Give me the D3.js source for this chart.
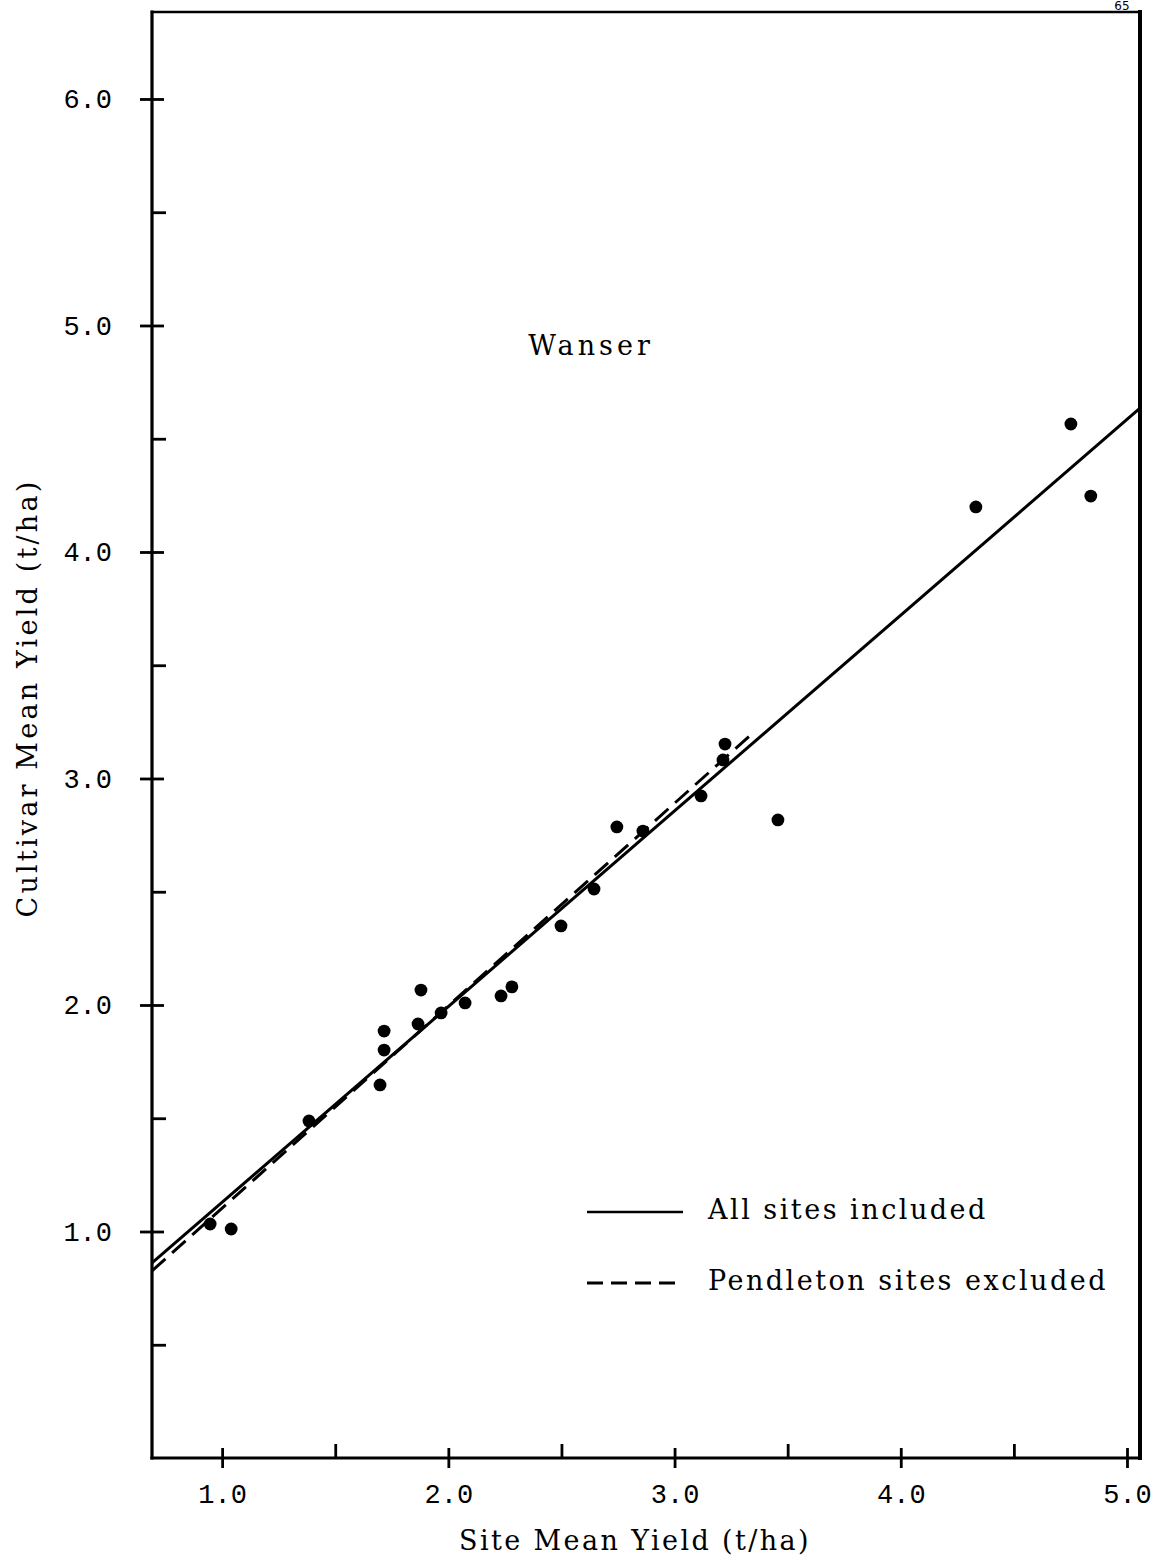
<!DOCTYPE html>
<html>
<head>
<meta charset="utf-8">
<script src="https://cdn.jsdelivr.net/npm/d3@7"></script>
<style>
  html, body { margin: 0; padding: 0; background: #fff; }
  svg { display: block; }
</style>
</head>
<body>
<svg id="chart" width="1158" height="1561"></svg>
<script>
// ---------------- data ----------------
const siteMean = [0.947, 1.04, 1.384, 1.698, 1.716, 1.716, 1.866, 1.879, 1.968, 2.074, 2.233, 2.281,
                  2.498, 2.644, 2.745, 2.860, 3.117, 3.214, 3.223, 3.457, 4.332, 4.752, 4.840];
const cultivarMean = [1.033, 1.011, 1.488, 1.647, 1.801, 1.885, 1.916, 2.066, 1.965, 2.009, 2.040, 2.080,
                      2.349, 2.512, 2.786, 2.768, 2.923, 3.082, 3.152, 2.817, 4.199, 4.565, 4.247];
// regression line end points
const allSitesX = [0.69, 5.0575];
const allSitesY = [0.861, 4.635];
const pendletonX = [0.69, 3.346];
const pendletonY = [0.826, 3.200];

const xMajorTicks = [1, 2, 3, 4, 5];
const xMinorTicks = [1.5, 2.5, 3.5, 4.5];
const xTickLabels = ["1.0", "2.0", "3.0", "4.0", "5.0"];
const yMajorTicks = [1, 2, 3, 4, 5, 6];
const yMinorTicks = [0.5, 1.5, 2.5, 3.5, 4.5, 5.5];
const yTickLabels = ["1.0", "2.0", "3.0", "4.0", "5.0", "6.0"];
const xExtent = [0.69, 5.0575];
const yExtent = [0, 6.384];

const legendLabels = ["All sites included", "Pendleton sites excluded"];
const xTitle = "Site Mean Yield (t/ha)";
const yTitle = "Cultivar Mean Yield (t/ha)";
const panelLabel = "Wanser";
const pageNumber = "65";

// ---------------- drawing ----------------
const svg = d3.select("#chart");
const x = d3.scaleLinear().domain(xExtent).range([152, 1140]);
const y = d3.scaleLinear().domain(yExtent).range([1458, 12]);

const ink = "#000";
const monoFont = "'Liberation Mono', 'DejaVu Sans Mono', monospace";
const serifFont = "'DejaVu Serif', 'Liberation Serif', serif";

// X axis (major ticks crossing the axis)
const gxMajor = svg.append("g")
  .attr("transform", `translate(0,${y(0)})`)
  .call(d3.axisBottom(x).tickValues(xMajorTicks).tickSize(10).tickPadding(30)
        .tickFormat((d, i) => xTickLabels[i]));
gxMajor.select(".domain").remove();
gxMajor.selectAll(".tick line").attr("y1", -10).attr("stroke", ink).attr("stroke-width", 2.8);
gxMajor.selectAll(".tick text")
  .attr("font-family", monoFont).attr("font-size", 27).attr("fill", ink)
  .attr("dy", "0.2em");

const gxMinor = svg.append("g")
  .attr("transform", `translate(0,${y(0)})`)
  .call(d3.axisBottom(x).tickValues(xMinorTicks).tickSize(-14).tickFormat(""));
gxMinor.select(".domain").remove();
gxMinor.selectAll(".tick line").attr("stroke", ink).attr("stroke-width", 2.8);

// Y axis
const gyMajor = svg.append("g")
  .attr("transform", `translate(${x(xExtent[0])},0)`)
  .call(d3.axisLeft(y).tickValues(yMajorTicks).tickSize(12).tickPadding(28)
        .tickFormat((d, i) => yTickLabels[i]));
gyMajor.select(".domain").remove();
gyMajor.selectAll(".tick line").attr("x1", 12).attr("stroke", ink).attr("stroke-width", 2.8);
gyMajor.selectAll(".tick text")
  .attr("font-family", monoFont).attr("font-size", 27).attr("fill", ink);

const gyMinor = svg.append("g")
  .attr("transform", `translate(${x(xExtent[0])},0)`)
  .call(d3.axisLeft(y).tickValues(yMinorTicks).tickSize(-14).tickFormat(""));
gyMinor.select(".domain").remove();
gyMinor.selectAll(".tick line").attr("stroke", ink).attr("stroke-width", 2.8);

// Frame
const frame = svg.append("g").attr("fill", "none").attr("stroke", ink).attr("stroke-linecap", "square");
frame.append("line").attr("x1", x(xExtent[0])).attr("x2", x(xExtent[0]))
  .attr("y1", y(yExtent[1])).attr("y2", y(0)).attr("stroke-width", 3.2);
frame.append("line").attr("x1", x(xExtent[0])).attr("x2", x(xExtent[1]))
  .attr("y1", y(0)).attr("y2", y(0)).attr("stroke-width", 3.2);
frame.append("line").attr("x1", x(xExtent[1])).attr("x2", x(xExtent[1]))
  .attr("y1", y(yExtent[1])).attr("y2", y(0)).attr("stroke-width", 4);
frame.append("line").attr("x1", x(xExtent[0])).attr("x2", x(xExtent[1]))
  .attr("y1", y(yExtent[1])).attr("y2", y(yExtent[1])).attr("stroke-width", 2.5);

// Regression lines
const line = d3.line().x(d => x(d[0])).y(d => y(d[1]));
svg.append("path")
  .datum(d3.zip(allSitesX, allSitesY))
  .attr("d", line).attr("fill", "none").attr("stroke", ink).attr("stroke-width", 3);
svg.append("path")
  .datum(d3.zip(pendletonX, pendletonY))
  .attr("d", line).attr("fill", "none").attr("stroke", ink).attr("stroke-width", 3)
  .attr("stroke-dasharray", "18,9");

// Points
svg.append("g").selectAll("circle")
  .data(d3.zip(siteMean, cultivarMean))
  .join("circle")
  .attr("cx", d => x(d[0])).attr("cy", d => y(d[1]))
  .attr("r", 6.4).attr("fill", ink);

// Panel label
svg.append("text").attr("x", 591).attr("y", 355).attr("text-anchor", "middle")
  .attr("font-family", serifFont).attr("font-size", 27).attr("letter-spacing", 4)
  .attr("fill", ink).text(panelLabel);

// Legend
const legend = svg.append("g");
legend.append("line").attr("x1", 587).attr("x2", 683).attr("y1", 1212).attr("y2", 1212)
  .attr("stroke", ink).attr("stroke-width", 2.5);
legend.append("line").attr("x1", 587).attr("x2", 683).attr("y1", 1283).attr("y2", 1283)
  .attr("stroke", ink).attr("stroke-width", 3).attr("stroke-dasharray", "16,8");
legend.selectAll("text.leg").data(legendLabels).join("text")
  .attr("class", "leg")
  .attr("x", 708).attr("y", (d, i) => 1219 + i * 71)
  .attr("font-family", serifFont).attr("font-size", 27).attr("letter-spacing", 2.5)
  .attr("fill", ink).text(d => d);

// Axis titles
svg.append("text").attr("x", 635).attr("y", 1550).attr("text-anchor", "middle")
  .attr("font-family", serifFont).attr("font-size", 27).attr("letter-spacing", 2.4)
  .attr("fill", ink).text(xTitle);
svg.append("text").attr("transform", "translate(37,698) rotate(-90)").attr("text-anchor", "middle")
  .attr("font-family", serifFont).attr("font-size", 27).attr("letter-spacing", 3.2)
  .attr("fill", ink).text(yTitle);

// page number (above the frame, top right)
svg.append("text").attr("x", 1122).attr("y", 9.5).attr("text-anchor", "middle")
  .attr("font-family", "'DejaVu Sans', sans-serif").attr("font-size", 12)
  .attr("fill", ink).text(pageNumber);
</script>
</body>
</html>
